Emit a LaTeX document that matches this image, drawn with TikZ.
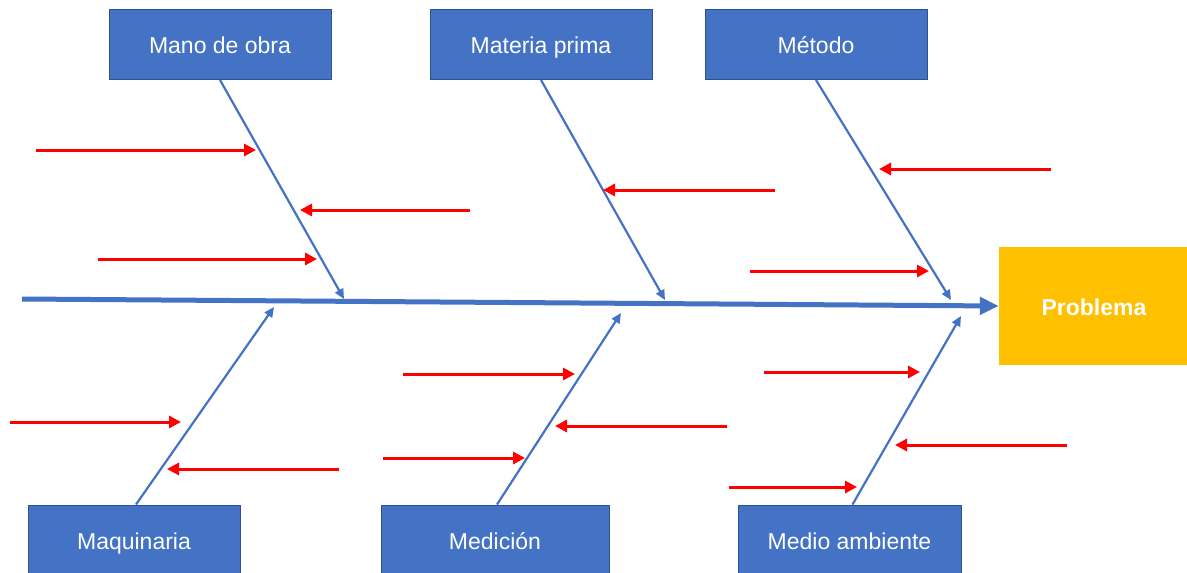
\documentclass[tikz,border=0pt]{standalone}
\usepackage{fontspec}
\setmainfont{Liberation Sans}
\usetikzlibrary{arrows.meta}
\definecolor{boxblue}{HTML}{4472C4}
\definecolor{boxedge}{HTML}{2F528F}
\definecolor{probyellow}{HTML}{FFC000}
\tikzset{
  catbox/.style={draw=boxedge, line width=1pt, fill=boxblue, text=white, minimum width=222pt, minimum height=70pt, inner sep=0pt, text height=20pt, text depth=2pt, font=\fontsize{23}{26}\selectfont},
  probbox/.style={fill=probyellow, text=white, minimum width=190pt, minimum height=118pt, inner sep=0pt, text height=20pt, text depth=2pt, font=\fontsize{23}{26}\selectfont\bfseries},
  spine/.style={draw=boxblue, line width=5pt, -{Triangle[length=19pt,width=17pt]}},
  bone/.style={draw=boxblue, line width=2.2pt, -{Triangle[length=10pt,width=9pt]}},
  cause/.style={draw=red, line width=3pt, -{Triangle[length=12pt,width=12pt]}}
}
\begin{document}
\begin{tikzpicture}[x=1pt,y=-1pt]
\useasboundingbox (0,0) rectangle (1187,573);
% category boxes
\node[catbox] (mano) at (220,44.5) {Mano de obra};
\node[catbox] (mat) at (541,44.5) {Materia prima};
\node[catbox] (met) at (816,44.5) {Método};
\node[catbox, minimum width=212pt] (maq) at (134,540) {Maquinaria};
\node[catbox, minimum width=228pt] (med) at (495,540) {Medición};
\node[catbox, minimum width=223pt] (amb) at (849.5,540) {Medio ambiente};
\node[probbox] (prob) at (1094,306) {Problema};
% spine
\coordinate (tail) at (22,299);
\draw[spine] (tail) -- (prob.west);
% bone ends on spine
\coordinate (e1) at (344,299);
\coordinate (e2) at (665,300);
\coordinate (e3) at (951,300);
\coordinate (e4) at (274,307);
\coordinate (e5) at (621,313);
\coordinate (e6) at (961,316);
\draw[bone] (mano.south) -- (e1);
\draw[bone] (mat.south) -- (e2);
\draw[bone] (met.south) -- (e3);
\draw[bone] (maq.north) ++(2,0) -- (e4);
\draw[bone] (med.north) ++(2,0) -- (e5);
\draw[bone] (amb.north) ++(3,0) -- (e6);
% causes
\foreach \a/\b/\y [count=\i] in {36/256/150, 470/300/210, 98/317/259, 775/603/190, 1051/879/169, 750/929/271, 10/181/422, 339/167/469, 403/575/374, 727/555/426, 383/525/458, 764/920/372, 1067/895/445, 729/857/487}{
  \coordinate (s\i) at (\a,\y);
  \coordinate (t\i) at (\b,\y);
  \draw[cause] (s\i) -- (t\i);
}
\end{tikzpicture}
\end{document}
